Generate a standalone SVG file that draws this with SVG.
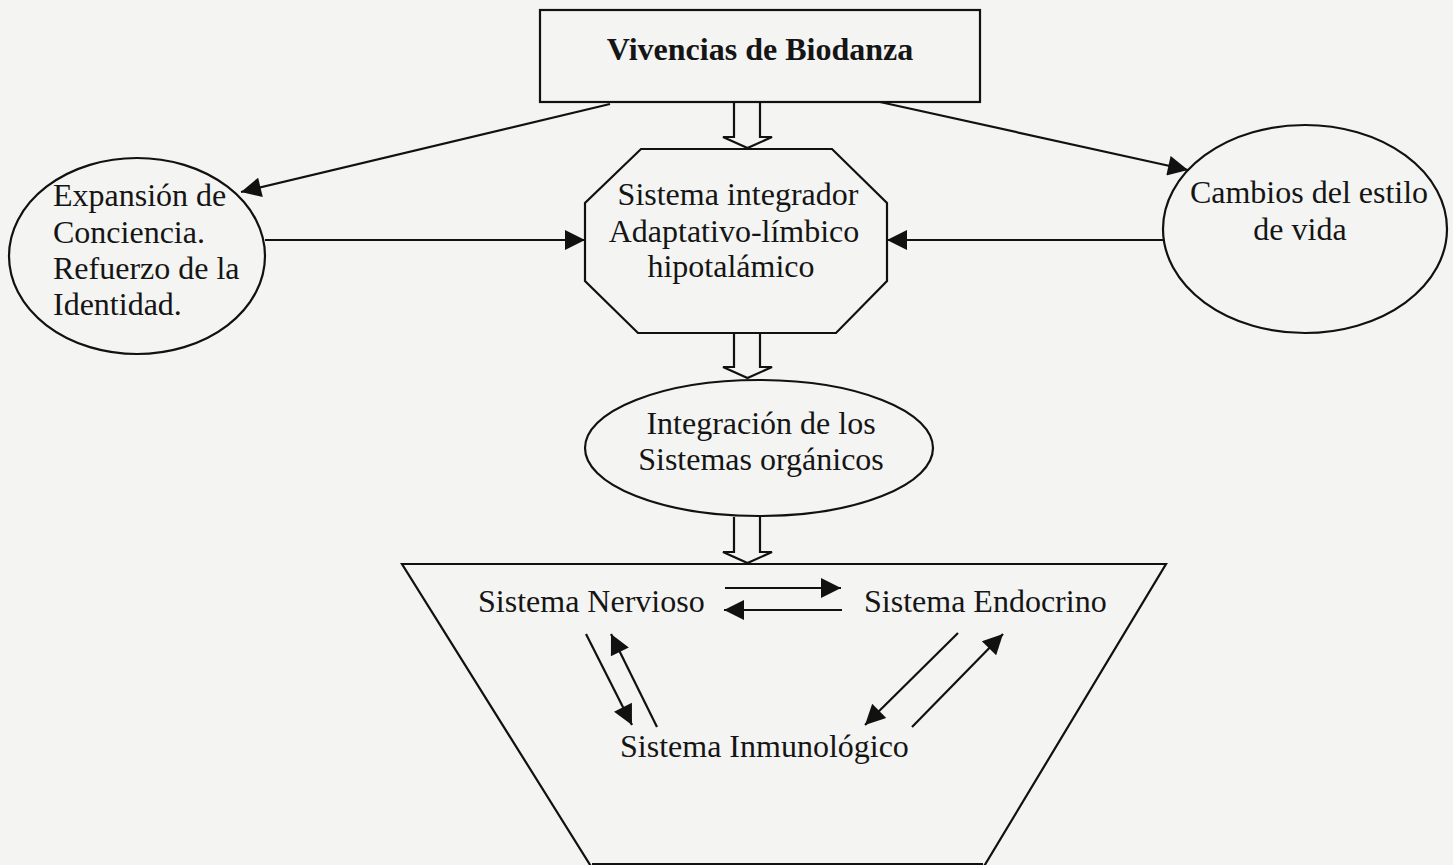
<svg xmlns="http://www.w3.org/2000/svg" width="1453" height="865" viewBox="0 0 1453 865">
<style>
.shape{fill:none;stroke:#111;stroke-width:2.2}
.line{fill:none;stroke:#111;stroke-width:2.2}
.hollow{fill:none;stroke:#111;stroke-width:2.2;stroke-linejoin:miter}
text{font-family:"Liberation Serif","Times New Roman",serif;font-size:32px;fill:#151515}
.mid{text-anchor:middle}
.bold{font-weight:bold}
</style>
<defs>
<marker id="ah" viewBox="0 0 10 10" refX="10" refY="5" markerWidth="24" markerHeight="20" markerUnits="userSpaceOnUse" orient="auto">
<path d="M0,0 L10,5 L0,10 z" fill="#111"/>
</marker>
</defs>
<rect x="0" y="0" width="1453" height="865" fill="#f4f4f2"/>

<g id="node-vivencias">
<rect class="shape" x="540" y="10" width="440" height="92"/>
<text class="mid bold" x="760" y="60">Vivencias de Biodanza</text>
</g>

<g id="node-sistema-integrador">
<polygon class="shape" points="641,149 832,149 887,203 887,281 836,333 638,333 585,281 585,203"/>
<text class="mid" x="738" y="205">Sistema integrador</text>
<text class="mid" x="734" y="242">Adaptativo-límbico</text>
<text class="mid" x="731" y="277">hipotalámico</text>
</g>

<g id="node-expansion">
<ellipse class="shape" cx="137" cy="256" rx="128" ry="98"/>
<text x="53" y="206">Expansión de</text>
<text x="53" y="243">Conciencia.</text>
<text x="53" y="279">Refuerzo de la</text>
<text x="53" y="315">Identidad.</text>
</g>

<g id="node-cambios">
<ellipse class="shape" cx="1305" cy="229" rx="142" ry="104"/>
<text class="mid" x="1309" y="203">Cambios del estilo</text>
<text class="mid" x="1300" y="240">de vida</text>
</g>

<g id="node-integracion">
<ellipse class="shape" cx="759" cy="448" rx="174" ry="68"/>
<text class="mid" x="761" y="434">Integración de los</text>
<text class="mid" x="761" y="470">Sistemas orgánicos</text>
</g>

<g id="node-sistemas">
<polyline class="shape" points="592,868 402,564 1166,564 983,868"/>
<line class="shape" x1="592" y1="864" x2="983" y2="864"/>
<text x="478" y="612">Sistema Nervioso</text>
<text x="864" y="612">Sistema Endocrino</text>
<text x="620" y="757">Sistema Inmunológico</text>
</g>

<g id="connectors">
<path class="hollow" d="M734,102 L734,137 L723,137 L747.5,148 L772,137 L760,137 L760,102"/>
<path class="hollow" d="M734,333 L734,367 L723,367 L747.5,378 L772,367 L760,367 L760,333"/>
<path class="hollow" d="M734,517 L734,552 L723,552 L747.5,563 L772,552 L760,552 L760,517"/>
<line class="line" x1="610" y1="104" x2="241" y2="192" marker-end="url(#ah)"/>
<line class="line" x1="880" y1="102" x2="1188" y2="170" marker-end="url(#ah)"/>
<line class="line" x1="265" y1="240" x2="585" y2="240" marker-end="url(#ah)"/>
<line class="line" x1="1163" y1="240" x2="887" y2="240" marker-end="url(#ah)"/>
<line class="line" x1="725" y1="588" x2="841" y2="588" marker-end="url(#ah)"/>
<line class="line" x1="842" y1="610" x2="724" y2="610" marker-end="url(#ah)"/>
<line class="line" x1="586" y1="634" x2="632" y2="725" marker-end="url(#ah)"/>
<line class="line" x1="657" y1="727" x2="611" y2="634" marker-end="url(#ah)"/>
<line class="line" x1="958" y1="633" x2="865" y2="725" marker-end="url(#ah)"/>
<line class="line" x1="912" y1="727" x2="1003" y2="634" marker-end="url(#ah)"/>
</g>
</svg>
